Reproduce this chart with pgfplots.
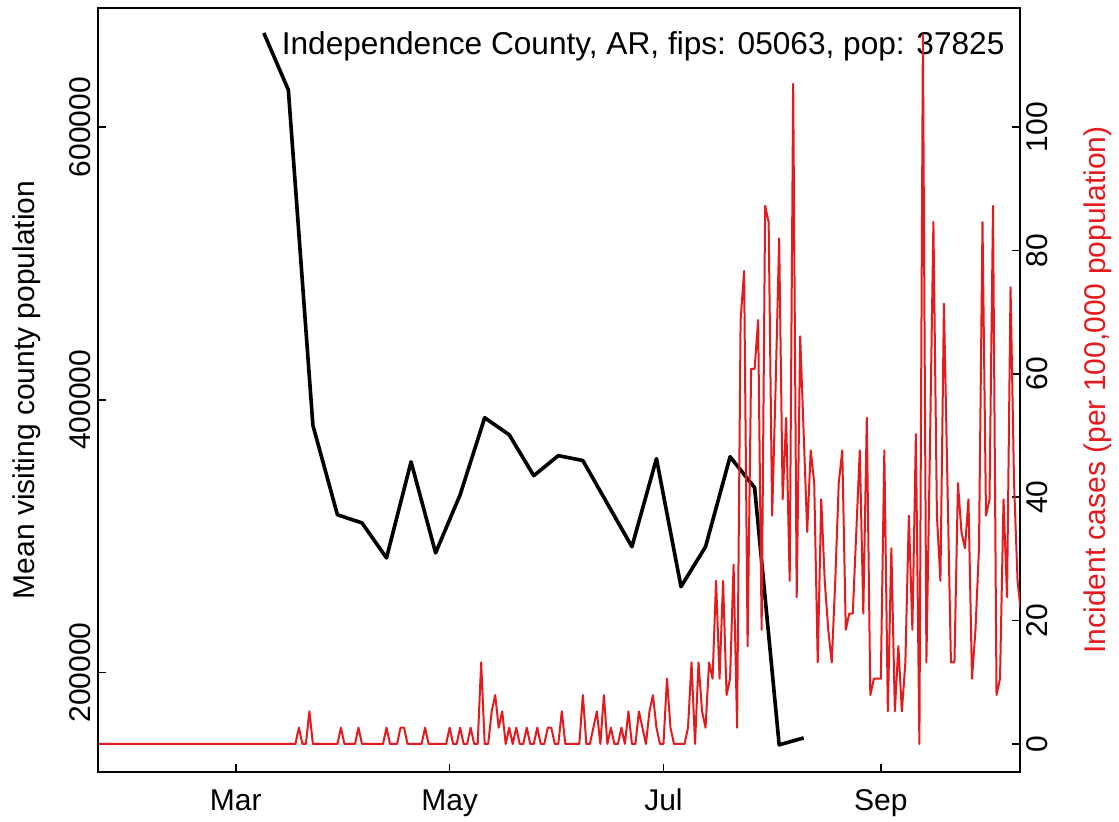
\documentclass[border=0pt]{standalone}
\usepackage{fontspec}
\setmainfont{Liberation Sans}
\usepackage{pgfplots}
\pgfplotsset{compat=1.18}
\definecolor{cred}{HTML}{E41A1C}
\begin{document}
\fontsize{12}{14.4}\selectfont
\begin{tikzpicture}
\path[use as bounding box] (-39.2pt,-20pt) rectangle (408.4pt,308.8pt);
\begin{axis}[
  at={(0,0)}, anchor=south west,
  scale only axis, width=368.8pt, height=305.6pt,
  xmin=21.7, xmax=284.7, ymin=127000, ymax=687300,
  axis line style={line width=0.7pt},
  tick align=inside, major tick length=3.2pt,
  tick style={line width=0.7pt, black},
  xtick={61,122,183,245}, xticklabels={Mar,May,Jul,Sep},
  ytick={200000,400000,600000}, yticklabels={200000,400000,600000},
  scaled y ticks=false, scaled x ticks=false,
  xtick pos=left, ytick pos=left,
  xticklabel style={anchor=base, yshift=-15.6pt},
  yticklabel style={xshift=-2.9pt, rotate=90, anchor=base},
  /pgf/number format/assume math mode=true,
]
\addplot[black, line width=1.45pt, line join=round, mark=none] coordinates {
(69,669000) (76,627200) (83,381300) (90,315600) (97,309700) (104,284000)
(111,354500) (118,287700) (125,330300) (132,386800) (139,374300) (146,344300)
(153,359000) (160,355400) (174,292200) (181,356800) (188,262900) (195,292200)
(202,358200) (209,335500) (216,146900) (223,152000)};
\end{axis}
\node[anchor=east, inner sep=0pt, font=\fontsize{12.65}{15}\selectfont] at (362.8pt,290.2pt) {Independence County, AR, fips: 05063, pop: 37825};
\begin{axis}[
  at={(0,0)}, anchor=south west,
  scale only axis, width=368.8pt, height=305.6pt,
  xmin=21.7, xmax=284.7, ymin=-4.54, ymax=119.3,
  axis x line=none, axis y line*=right,
  axis line style={line width=0.7pt, black},
  tick align=inside, major tick length=3.2pt,
  tick style={line width=0.7pt, black},
  ytick={0,20,40,60,80,100},
  scaled y ticks=false,
  yticklabel style={xshift=11.1pt, rotate=90, anchor=base},
  /pgf/number format/assume math mode=true,
]
\addplot[cred, line width=0.8pt, line join=round, mark=none] coordinates {
(22,0) (23,0) (24,0) (25,0) (26,0) (27,0) (28,0) (29,0) (30,0) (31,0)
(32,0) (33,0) (34,0) (35,0) (36,0) (37,0) (38,0) (39,0) (40,0) (41,0)
(42,0) (43,0) (44,0) (45,0) (46,0) (47,0) (48,0) (49,0) (50,0) (51,0)
(52,0) (53,0) (54,0) (55,0) (56,0) (57,0) (58,0) (59,0) (60,0) (61,0)
(62,0) (63,0) (64,0) (65,0) (66,0) (67,0) (68,0) (69,0) (70,0) (71,0)
(72,0) (73,0) (74,0) (75,0) (76,0) (77,0) (78,0)
(79,2.64) (80,0) (81,0) (82,5.29) (83,0) (84,0) (85,0) (86,0) (87,0) (88,0) (89,0) (90,0)
(91,2.64) (92,0) (93,0) (94,0) (95,0) (96,2.64) (97,0) (98,0) (99,0) (100,0) (101,0) (102,0) (103,0)
(104,2.64) (105,0) (106,0) (107,0) (108,2.64) (109,2.64) (110,0) (111,0) (112,0) (113,0) (114,0)
(115,2.64) (116,0) (117,0) (118,0) (119,0) (120,0) (121,0) (122,2.64) (123,0) (124,0) (125,2.64)
(126,0) (127,0) (128,2.64) (129,0) (130,0)
(131,13.22) (132,0) (133,0) (134,5.29) (135,7.93) (136,2.64) (137,5.29) (138,0) (139,2.64) (140,0)
(141,2.64) (142,0) (143,0) (144,2.64) (145,0) (146,0) (147,2.64) (148,0) (149,0) (150,2.64)
(151,2.64) (152,0) (153,0) (154,5.29) (155,0) (156,0) (157,0) (158,0) (159,0) (160,7.93)
(161,0) (162,0) (163,2.64) (164,5.29) (165,0) (166,7.93) (167,0) (168,2.64) (169,0) (170,0)
(171,2.64) (172,0) (173,5.29) (174,0) (175,0) (176,5.29) (177,2.64) (178,0) (179,5.29) (180,7.93)
(181,2.64) (182,0) (183,0) (184,10.58) (185,2.64) (186,0) (187,0) (188,0) (189,0) (190,2.64)
(191,13.22) (192,0) (193,13.22) (194,5.29) (195,2.64) (196,13.22) (197,10.58) (198,26.44) (199,10.58) (200,26.44)
(201,7.93) (202,10.58) (203,29.08) (204,2.64) (205,68.74) (206,76.67) (207,15.86) (208,60.81) (209,60.81) (210,68.74)
(211,18.51) (212,87.24) (213,84.60) (214,37.01) (215,58.16) (216,81.96) (217,39.66) (218,52.88) (219,26.44) (220,107.0)
(221,23.79) (222,66.09) (223,50.23) (224,34.37) (225,47.59) (226,42.30) (227,13.22) (228,39.66) (229,26.44) (230,18.51)
(231,13.22) (232,26.44) (233,42.30) (234,47.59) (235,18.51) (236,21.15) (237,21.15) (238,34.37) (239,47.59) (240,21.15)
(241,52.88) (242,7.93) (243,10.58) (244,10.58) (245,10.58) (246,47.59) (247,5.29) (248,31.73) (249,5.29) (250,15.86)
(251,5.29) (252,13.22) (253,37.01) (254,18.51) (255,50.23) (256,0) (257,115.0) (258,13.22) (259,47.59) (260,84.60)
(261,37.01) (262,26.44) (263,71.38) (264,42.30) (265,13.22) (266,13.22) (267,42.30) (268,34.37) (269,31.73) (270,39.66)
(271,10.58) (272,18.51) (273,31.73) (274,84.60) (275,37.01) (276,39.66) (277,87.24) (278,7.93) (279,10.58) (280,39.66)
(281,23.79) (282,74.03) (283,42.30) (284,26.44) (285,21.15)};
\end{axis}
\node[rotate=90] at (-28.4pt,152.8pt) {Mean visiting county population};
\node[rotate=90, text=cred] at (400pt,152.8pt) {Incident cases (per 100,000 population)};
\end{tikzpicture}
\end{document}
